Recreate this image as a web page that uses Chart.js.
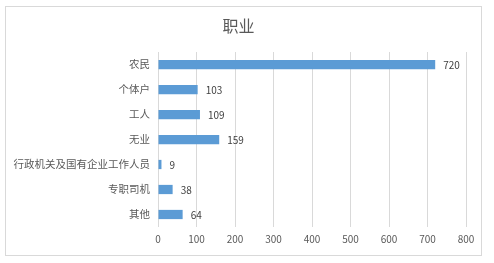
<!DOCTYPE html>
<html>
<head>
<meta charset="utf-8">
<script src="https://cdn.jsdelivr.net/npm/chart.js@4/dist/chart.umd.min.js"></script>
<style>
  html, body { margin: 0; padding: 0; background: #fff; }
  #wrap { position: relative; width: 494px; height: 263px; }
  #frame { position: absolute; left: 5px; top: 6px; width: 475px; height: 248px; border: 1px solid #d9d9d9; }
  canvas { position: absolute; left: 0; top: 0; }
</style>
</head>
<body>
<div id="wrap">
  <div id="frame"></div>
  <canvas id="c" width="494" height="263"></canvas>
</div>
<script>
const categories = ["农民", "个体户", "工人", "无业", "行政机关及国有企业工作人员", "专职司机", "其他"];
const counts = [720, 103, 109, 159, 9, 38, 64];
const xTicks = [0, 100, 200, 300, 400, 500, 600, 700, 800];
const chartTitle = "职业";

const FONT = '"Noto Sans CJK SC", "Noto Sans", sans-serif';

const valueLabels = {
  id: 'valueLabels',
  afterDatasetsDraw(chart) {
    const ctx = chart.ctx;
    const meta = chart.getDatasetMeta(0);
    ctx.save();
    ctx.font = '10px ' + FONT;
    ctx.fillStyle = '#404040';
    ctx.textAlign = 'left';
    ctx.textBaseline = 'middle';
    meta.data.forEach((el, i) => {
      ctx.fillText(String(counts[i]), el.x + 8, el.y + 1);
    });
    ctx.restore();
  }
};

new Chart(document.getElementById('c'), {
  type: 'bar',
  data: {
    labels: categories,
    datasets: [{
      data: counts,
      backgroundColor: '#5b9bd5',
      borderWidth: 0,
      categoryPercentage: 1,
      barPercentage: 0.37
    }]
  },
  options: {
    indexAxis: 'y',
    responsive: false,
    animation: false,
    devicePixelRatio: 1,
    layout: { padding: { left: 11, right: 28, top: 0, bottom: 0 } },
    plugins: {
      legend: { display: false },
      tooltip: { enabled: false },
      title: {
        display: true,
        text: chartTitle,
        color: '#595959',
        font: { family: FONT, size: 16, weight: 'normal' },
        padding: { top: 16, bottom: 16.8 }
      }
    },
    scales: {
      x: {
        min: 0,
        max: 800,
        afterBuildTicks(scale) { scale.ticks = xTicks.map(v => ({ value: v })); },
        afterFit(scale) { scale.height = 36; },
        grid: { color: '#d9d9d9', drawTicks: false },
        border: { display: false },
        ticks: { color: '#595959', font: { family: FONT, size: 10 }, padding: 6, maxRotation: 0 }
      },
      y: {
        afterFit(scale) { scale.width = 147; },
        grid: { display: false, drawTicks: false },
        border: { display: false },
        ticks: { color: '#595959', font: { family: FONT, size: 10.5 }, padding: 8, autoSkip: false }
      }
    }
  },
  plugins: [valueLabels]
});
</script>
</body>
</html>
